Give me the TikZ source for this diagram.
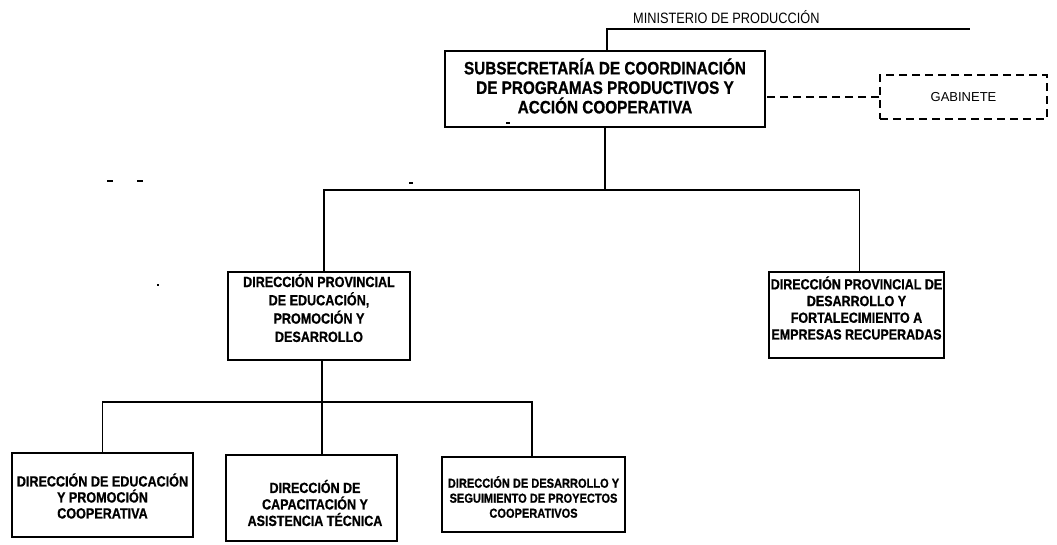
\documentclass[tikz,border=0pt]{standalone}
\usepackage{fontspec}
\setmainfont{Liberation Sans}
\newfontfamily\nb[FakeStretch=0.85, BoldFeatures={FakeBold=0.8}]{Liberation Sans}
\begin{document}
\begin{tikzpicture}[x=1pt,y=-1pt,
  box/.style={draw, line width=1.8pt, inner sep=0pt},
  dbox/.style={box, dash pattern=on 8pt off 5pt},
  conn/.style={line width=1.5pt},
  dconn/.style={line width=1.6pt, dash pattern=on 8pt off 5pt},
  txt/.style={align=center, inner sep=0pt},
  bigtxt/.style={txt, font=\nb\bfseries\fontsize{18}{19.5}\selectfont},
  smalltxt/.style={txt, font=\nb\bfseries\fontsize{13}{15}\selectfont},
  speck/.style={fill=black}]
\fill[white] (0,0) rectangle (1057,545);
\useasboundingbox (0,0) rectangle (1057,545);

% boxes
\node[box, minimum width=320pt, minimum height=76pt] (top) at (605,89) {};
\node[dbox, minimum width=167pt, minimum height=44pt, font=\fontsize{13}{13}\selectfont] (gab) at (963.5,97) {GABINETE};
\node[box, minimum width=182pt, minimum height=88pt] (lmid) at (319,316) {};
\node[box, minimum width=175pt, minimum height=86pt] (rmid) at (856.5,315) {};
\node[box, minimum width=181pt, minimum height=84pt] (b1) at (102.5,495) {};
\node[box, minimum width=171pt, minimum height=86pt] (b2) at (311.5,498) {};
\node[box, minimum width=183pt, minimum height=75pt] (b3) at (533.5,494.5) {};

% texts
\node[bigtxt] (toptxt) at (605,86) {SUBSECRETARÍA DE COORDINACIÓN\\DE PROGRAMAS PRODUCTIVOS Y\\ACCIÓN COOPERATIVA};
\node[anchor=base west, inner sep=0pt, font=\nb\fontsize{15}{15}\selectfont] (mintxt) at (633,24) {MINISTERIO DE PRODUCCIÓN};
\node[txt, font=\nb\bfseries\fontsize{14.8}{18.3}\selectfont] (lmidtxt) at (319,308) {DIRECCIÓN PROVINCIAL\\DE EDUCACIÓN,\\PROMOCIÓN Y\\DESARROLLO};
\node[txt, font=\nb\bfseries\fontsize{14.7}{16.7}\selectfont] (rmidtxt) at (856.5,308) {DIRECCIÓN PROVINCIAL DE\\DESARROLLO Y\\FORTALECIMIENTO A\\EMPRESAS RECUPERADAS};
\node[txt, font=\nb\bfseries\fontsize{14.8}{16}\selectfont] (b1txt) at (102.5,496) {DIRECCIÓN DE EDUCACIÓN\\Y PROMOCIÓN\\COOPERATIVA};
\node[txt, font=\nb\bfseries\fontsize{14.7}{16.5}\selectfont] (b2txt) at (315,503) {DIRECCIÓN DE\\CAPACITACIÓN Y\\ASISTENCIA TÉCNICA};
\node[smalltxt] (b3txt) at (533.5,497) {DIRECCIÓN DE DESARROLLO Y\\SEGUIMIENTO DE PROYECTOS\\COOPERATIVOS};

% connectors
\coordinate (minend) at (970,29);
\draw[conn] ([xshift=2pt]top.north) |- (minend);
\draw[dconn] (gab.west) -- (gab.west -| top.east);
\coordinate (bus1) at (0,190);
\draw[conn] (top.south) -- (top.south |- bus1);
\draw[conn] ([xshift=5pt]lmid.north) -- ([xshift=5pt]lmid.north |- bus1) -- ([xshift=3pt]rmid.north |- bus1) -- ([xshift=3pt]rmid.north);
\coordinate (bus2) at (0,402);
\coordinate (v2) at (322,0);
\draw[conn] (lmid.south -| v2) -- (b2.north -| v2);
\draw[conn] (b1.north) -- (b1.north |- bus2) -- ([xshift=-1.5pt]b3.north |- bus2) -- ([xshift=-1.5pt]b3.north);

% scan specks
\fill[speck] (107,180) rectangle (113,182);
\fill[speck] (137,180) rectangle (143,182);
\fill[speck] (409,182) rectangle (413,184);
\fill[speck] (156.5,284) rectangle (158.5,286.5);
\fill[speck] (506,122) rectangle (510,124);
\end{tikzpicture}
\end{document}
